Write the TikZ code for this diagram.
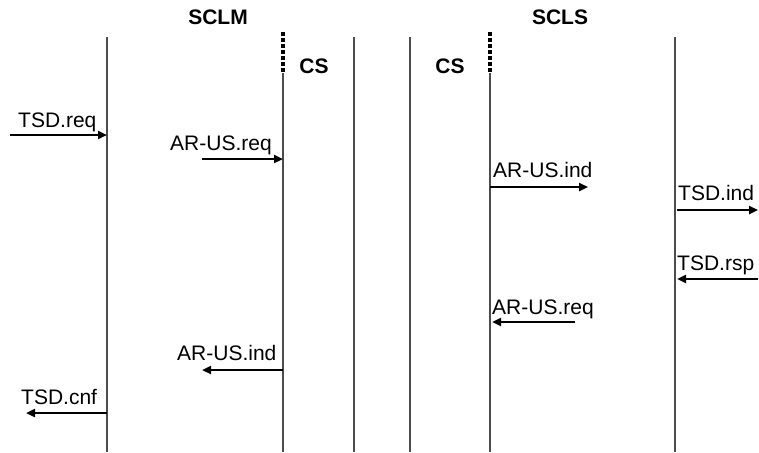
\documentclass[tikz,border=0pt]{standalone}
\usepackage{fontspec}
\setmainfont{Liberation Sans}
\usetikzlibrary{arrows.meta}
\tikzset{
  lifeline/.style={black!70, line width=1.1pt},
  csgap/.style={draw=black, line width=3.6pt, dash pattern=on 4pt off 2pt},
  msg/.style={line width=2.4pt, -{Triangle[length=9pt,width=8pt]}},
  msglabel/.style={anchor=base west, inner sep=0pt, font=\fontsize{21}{25}\selectfont},
  entity/.style={anchor=base, inner sep=0pt, font=\fontsize{21}{25}\selectfont\bfseries}
}

\begin{document}
\begin{tikzpicture}[x=1pt,y=-1pt]
\useasboundingbox (0,0) rectangle (759,452);
% lifelines
\foreach \name/\x/\top in {userM/107/37, csM/283/73, linkM/354/37, linkS/410/37, csS/490/73, userS/675/37} {
  \coordinate (\name) at (\x,\top);
  \draw[lifeline] (\name) -- (\x,452);
}
\draw[csgap] (283,32) -- (csM);
\draw[csgap] (490,32) -- (csS);
\node[entity] (sclm) at (218,25) {SCLM};
\node[entity] (scls) at (560,25) {SCLS};
\node[entity] (csleft) at (314,73) {CS};
\node[entity] (csright) at (450,73) {CS};

% master side, request
\coordinate (a1) at (10,135);  \coordinate (a2) at (107,135);
\draw[msg] (a1) -- (a2);
\node[msglabel] (tsdreq) at (18,127) {TSD.req};
\coordinate (b1) at (202,159); \coordinate (b2) at (283,159);
\draw[msg] (b1) -- (b2);
\node[msglabel] (arreqM) at (170,150) {AR-US.req};

% slave side
\coordinate (c1) at (490,187); \coordinate (c2) at (588,187);
\draw[msg] (c1) -- (c2);
\node[msglabel] (arindS) at (493,177) {AR-US.ind};
\coordinate (d1) at (677,210); \coordinate (d2) at (758,210);
\draw[msg] (d1) -- (d2);
\node[msglabel] (tsdind) at (678,200) {TSD.ind};
\coordinate (e1) at (758,279); \coordinate (e2) at (677,279);
\draw[msg] (e1) -- (e2);
\node[msglabel] (tsdrsp) at (677,270) {TSD.rsp};
\coordinate (f1) at (575,322); \coordinate (f2) at (492,322);
\draw[msg] (f1) -- (f2);
\node[msglabel] (arreqS) at (492,314) {AR-US.req};

% master side, confirm
\coordinate (g1) at (283,370); \coordinate (g2) at (202,370);
\draw[msg] (g1) -- (g2);
\node[msglabel] (arindM) at (177,360) {AR-US.ind};
\coordinate (h1) at (107,413); \coordinate (h2) at (26,413);
\draw[msg] (h1) -- (h2);
\node[msglabel] (tsdcnf) at (21,404) {TSD.cnf};
\end{tikzpicture}
\end{document}
